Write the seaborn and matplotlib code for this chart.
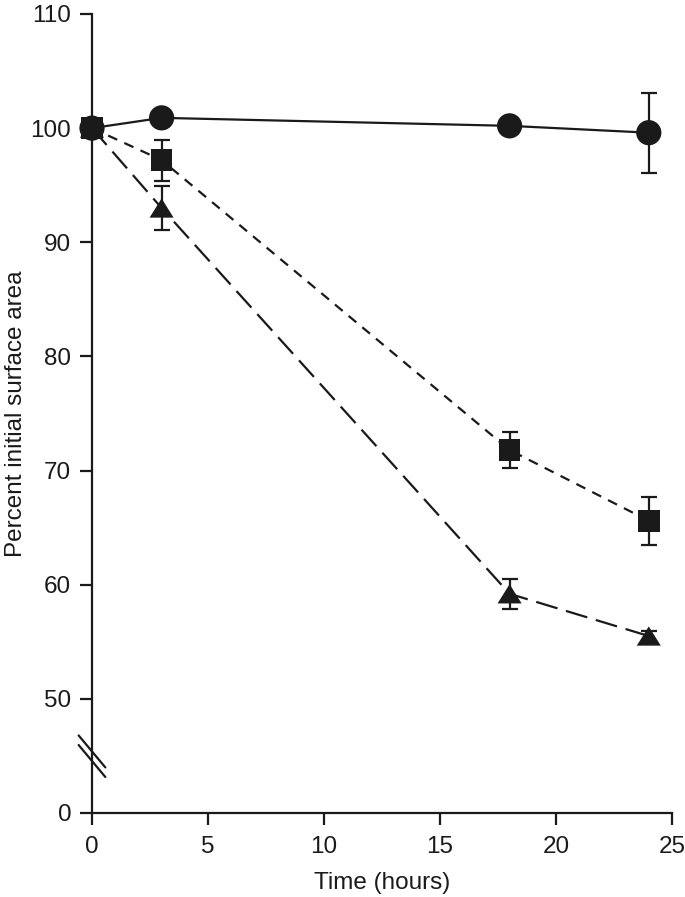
import matplotlib
matplotlib.use("Agg")
import matplotlib.pyplot as plt
import seaborn as sns
import pandas as pd

# values (percent of initial surface area)
hours = [0, 3, 18, 24]
circle_mean = [100.0, 100.9, 100.2, 99.6]
circle_err = [0.4, 0.6, 0.3, 3.5]
square_mean = [100.0, 97.2, 71.8, 65.6]
square_err = [0.4, 1.8, 1.6, 2.1]
triangle_mean = [100.0, 93.0, 59.2, 55.5]
triangle_err = [0.4, 1.9, 1.3, 0.4]

x_ticks = [0, 5, 10, 15, 20, 25]
y_ticks = [40, 50, 60, 70, 80, 90, 100, 110]
y_ticklabels = ["0", "50", "60", "70", "80", "90", "100", "110"]

sns.set_style("ticks")
plt.rcParams["font.family"] = ["Liberation Sans", "DejaVu Sans"]

df = pd.concat([
    pd.DataFrame({"hours": hours, "area": circle_mean, "err": circle_err, "group": "circle"}),
    pd.DataFrame({"hours": hours, "area": square_mean, "err": square_err, "group": "square"}),
    pd.DataFrame({"hours": hours, "area": triangle_mean, "err": triangle_err, "group": "triangle"}),
])

ink = "#1a1a1a"
flat_triangle = [(0, 0.8), (-1, -0.8), (1, -0.8), (0, 0.8)]

fig = plt.figure(figsize=(6.85, 8.97), dpi=100)
ax = fig.add_axes([0.1343, 0.0937, 0.8467, 0.8907])

# error bars first so markers sit on top
for name, sub in df.groupby("group"):
    ax.errorbar(sub["hours"], sub["area"], yerr=sub["err"], fmt="none",
                ecolor=ink, elinewidth=1.6, capsize=5.5, capthick=1.6,
                clip_on=False, zorder=2)

sns.lineplot(data=df, x="hours", y="area", style="group",
             dashes={"circle": "", "square": (4.5, 3.5), "triangle": (10, 4)},
             color=ink, linewidth=1.6, legend=False, ax=ax, zorder=3,
             clip_on=False)

sns.scatterplot(data=df, x="hours", y="area", style="group", size="group",
                markers={"circle": "o", "square": "s", "triangle": flat_triangle},
                sizes={"circle": 330, "square": 240, "triangle": 300},
                color=ink, linewidth=0, legend=False, ax=ax, zorder=4,
                clip_on=False)

ax.set_xlim(0, 25)
ax.set_ylim(40, 110)
ax.set_xticks(x_ticks)
ax.set_yticks(y_ticks)
ax.set_yticklabels(y_ticklabels)
ax.tick_params(direction="out", length=8.5, width=1.6, labelsize=17.5,
               colors=ink, pad=6.5)
ax.tick_params(axis="x", pad=8)
for side in ["left", "bottom"]:
    ax.spines[side].set_linewidth(1.6)
    ax.spines[side].set_color(ink)
sns.despine(ax=ax)

ax.set_xlabel("Time (hours)", fontsize=17.5, color=ink, labelpad=10)
ax.set_ylabel("Percent initial surface area", fontsize=17.5, color=ink)
ax.yaxis.set_label_coords(-0.112, 0.5)

# axis break marks on the y axis
for off in (-0.006, 0.006):
    ax.plot([-0.023, 0.023], [0.071 + off + 0.02, 0.071 + off - 0.02],
            transform=ax.transAxes, color=ink, lw=1.6, clip_on=False,
            zorder=4)

fig.savefig("out.png", dpi=100)
